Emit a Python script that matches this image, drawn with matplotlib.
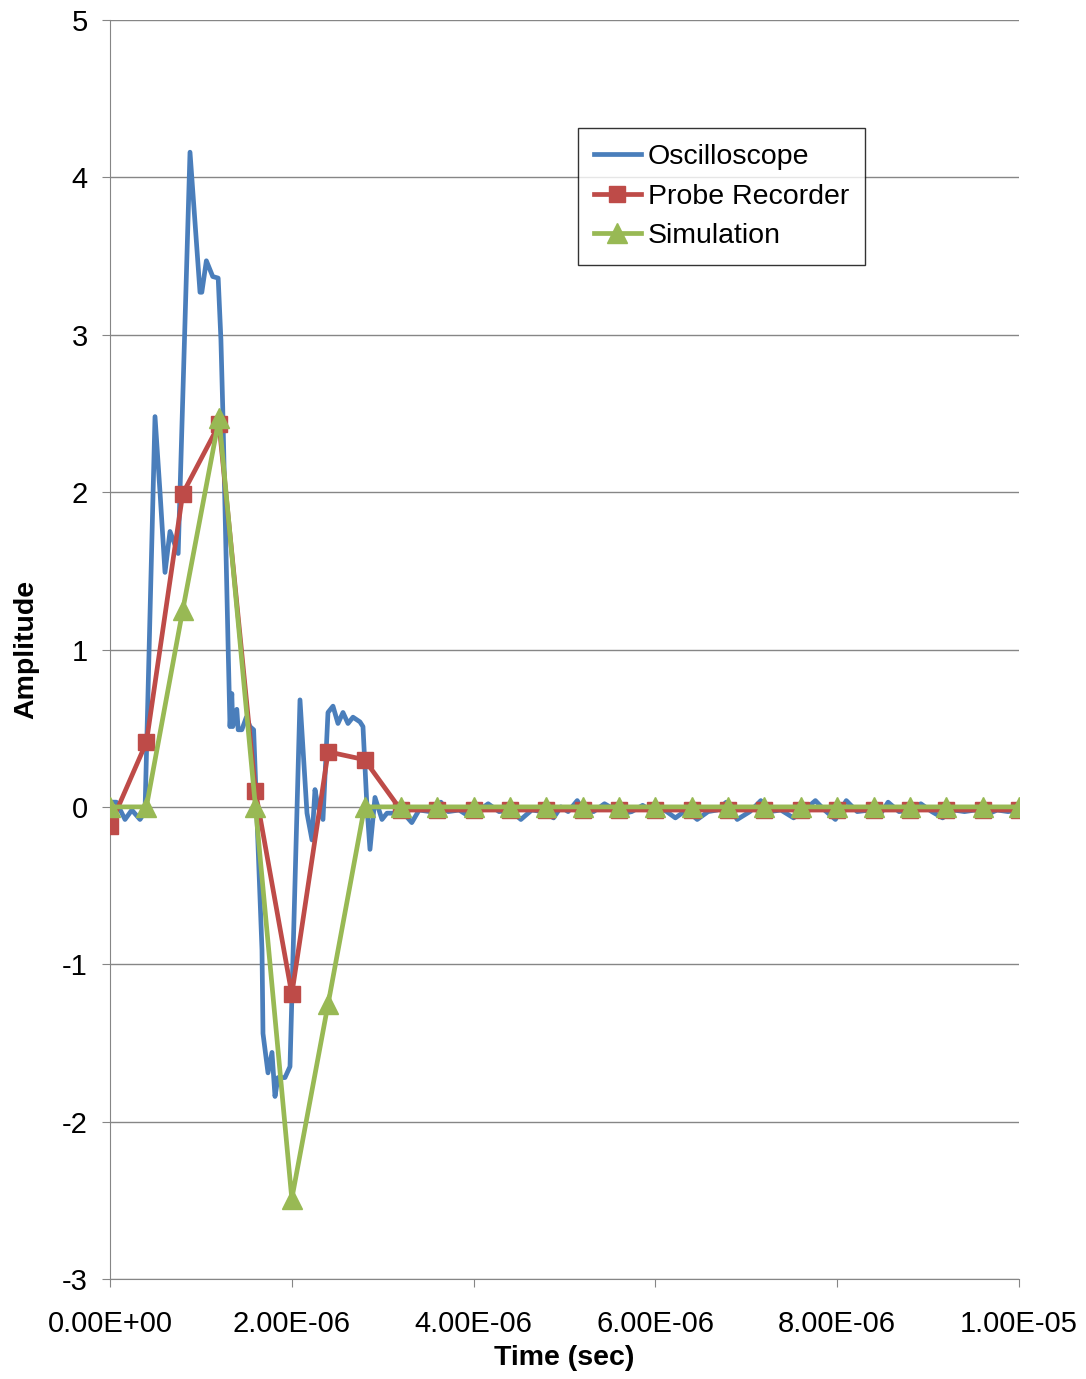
import numpy as np
import matplotlib.pyplot as plt

plt.rcParams['font.family'] = ['Liberation Sans', 'DejaVu Sans']
plt.rcParams['axes.unicode_minus'] = False

# Oscilloscope trace (time in microseconds, amplitude)
scope_t_us = [0.00, 0.07, 0.165, 0.24, 0.33, 0.385, 0.495, 0.55, 0.605, 0.66, 0.75,
              0.88, 0.99, 1.01, 1.06, 1.13, 1.19, 1.22, 1.24, 1.30, 1.32, 1.34, 1.35,
              1.395, 1.41, 1.45, 1.50, 1.54, 1.58, 1.672, 1.683, 1.738, 1.782, 1.815,
              1.848, 1.925, 1.98, 2.09, 2.167, 2.222, 2.255, 2.288, 2.343, 2.398, 2.453,
              2.508, 2.563, 2.618, 2.673, 2.75, 2.783, 2.827, 2.86, 2.915, 2.992, 3.047,
              3.113, 3.20, 3.32, 3.40, 3.52, 3.64, 3.72, 3.84, 3.95, 4.04, 4.16, 4.28,
              4.40, 4.52, 4.64, 4.76, 4.88, 4.96, 5.04, 5.14, 5.20, 5.32, 5.44, 5.56,
              5.66, 5.74, 5.86, 5.96, 6.10, 6.22, 6.34, 6.46, 6.58, 6.68, 6.78, 6.90,
              7.04, 7.16, 7.26, 7.38, 7.52, 7.64, 7.76, 7.86, 7.98, 8.10, 8.22, 8.36,
              8.46, 8.56, 8.68, 8.80, 8.92, 9.04, 9.16, 9.28, 9.40, 9.52, 9.64, 9.76,
              9.88, 10.00]
scope_amp = [0.03, 0.03, -0.08, -0.02, -0.08, -0.03, 2.48, 2.00, 1.49, 1.75, 1.61,
             4.16, 3.27, 3.27, 3.47, 3.37, 3.36, 2.97, 2.54, 1.00, 0.51, 0.72, 0.51,
             0.62, 0.49, 0.49, 0.57, 0.51, 0.49, -0.91, -1.44, -1.69, -1.56, -1.84,
             -1.72, -1.72, -1.65, 0.68, -0.04, -0.21, 0.11, 0.00, -0.08, 0.60, 0.64,
             0.53, 0.60, 0.53, 0.57, 0.54, 0.51, 0.00, -0.27, 0.06, -0.08, -0.04,
             -0.04, -0.02, -0.10, -0.02, -0.03, 0.03, -0.03, -0.02, -0.06, -0.03,
             0.02, -0.03, -0.02, -0.08, -0.02, -0.03, -0.07, 0.00, -0.03, 0.04,
             -0.02, -0.03, 0.02, -0.02, -0.04, -0.03, 0.01, -0.03, -0.02, -0.07,
             -0.02, -0.08, -0.03, -0.02, 0.03, -0.08, -0.03, 0.04, -0.03, -0.02,
             -0.07, -0.02, 0.04, -0.02, -0.08, 0.04, -0.03, -0.02, -0.06, 0.03,
             -0.03, -0.02, 0.02, -0.03, -0.07, -0.02, -0.03, -0.02, -0.05, -0.02,
             -0.03, -0.02]

# Probe recorder and simulation samples every 0.4 us
sample_t_us = [0.0, 0.4, 0.8, 1.2, 1.6, 2.0, 2.4, 2.8, 3.2, 3.6, 4.0, 4.4, 4.8,
               5.2, 5.6, 6.0, 6.4, 6.8, 7.2, 7.6, 8.0, 8.4, 8.8, 9.2, 9.6, 10.0]
probe_amp = [-0.12, 0.41, 1.99, 2.43, 0.10, -1.19, 0.35, 0.30, -0.02, -0.02, -0.02,
             -0.02, -0.02, -0.02, -0.02, -0.02, -0.02, -0.02, -0.02, -0.02, -0.02,
             -0.02, -0.02, -0.02, -0.02, -0.02]
sim_amp = [0.0, 0.0, 1.25, 2.47, 0.0, -2.49, -1.25, 0.0, 0.0, 0.0, 0.0, 0.0, 0.0,
           0.0, 0.0, 0.0, 0.0, 0.0, 0.0, 0.0, 0.0, 0.0, 0.0, 0.0, 0.0, 0.0]

xtick_labels = ['0.00E+00', '2.00E-06', '4.00E-06', '6.00E-06', '8.00E-06', '1.00E-05']

scope_t = np.array(scope_t_us) * 1e-6
sample_t = np.array(sample_t_us) * 1e-6

fig = plt.figure(figsize=(10.86, 13.79), dpi=100)
ax = fig.add_axes([0.1013, 0.0725, 0.8370, 0.9130])

ax.plot(scope_t, scope_amp, color='#4A7EBB', lw=3.4, label='Oscilloscope', zorder=3)
ax.plot(sample_t, probe_amp, color='#BE4B48', lw=3.4, marker='s', markersize=12,
        label='Probe Recorder', zorder=4)
ax.plot(sample_t, sim_amp, color='#98B954', lw=3.4, marker='^', markersize=14,
        label='Simulation', zorder=5)

ax.set_xlim(0, 1e-5)
ax.set_ylim(-3, 5)
ax.set_xticks(np.arange(0, 1.01e-5, 2e-6))
ax.set_xticklabels(xtick_labels)
ax.set_yticks(range(-3, 6))
ax.tick_params(labelsize=21, length=6, color='#868686', direction='out')
ax.tick_params(axis='x', pad=16)
ax.tick_params(axis='y', pad=10)
ax.yaxis.grid(True, color='#868686', lw=1)
ax.set_axisbelow(True)
for side in ('top', 'right'):
    ax.spines[side].set_visible(False)
for side in ('left', 'bottom'):
    ax.spines[side].set_color('#868686')

ax.set_xlabel('Time (sec)', fontsize=20.5, fontweight='bold', labelpad=5)
ax.set_ylabel('Amplitude', fontsize=20.5, fontweight='bold', labelpad=16)

leg = ax.legend(loc='upper left', bbox_to_anchor=(0.515, 0.914), fontsize=20.5,
                frameon=True, fancybox=False, handlelength=1.65, handletextpad=0.25,
                borderpad=0.55, labelspacing=0.48, borderaxespad=0)
leg.get_frame().set_edgecolor('black')
leg.get_frame().set_linewidth(1)

fig.savefig('out.png', dpi=100)
